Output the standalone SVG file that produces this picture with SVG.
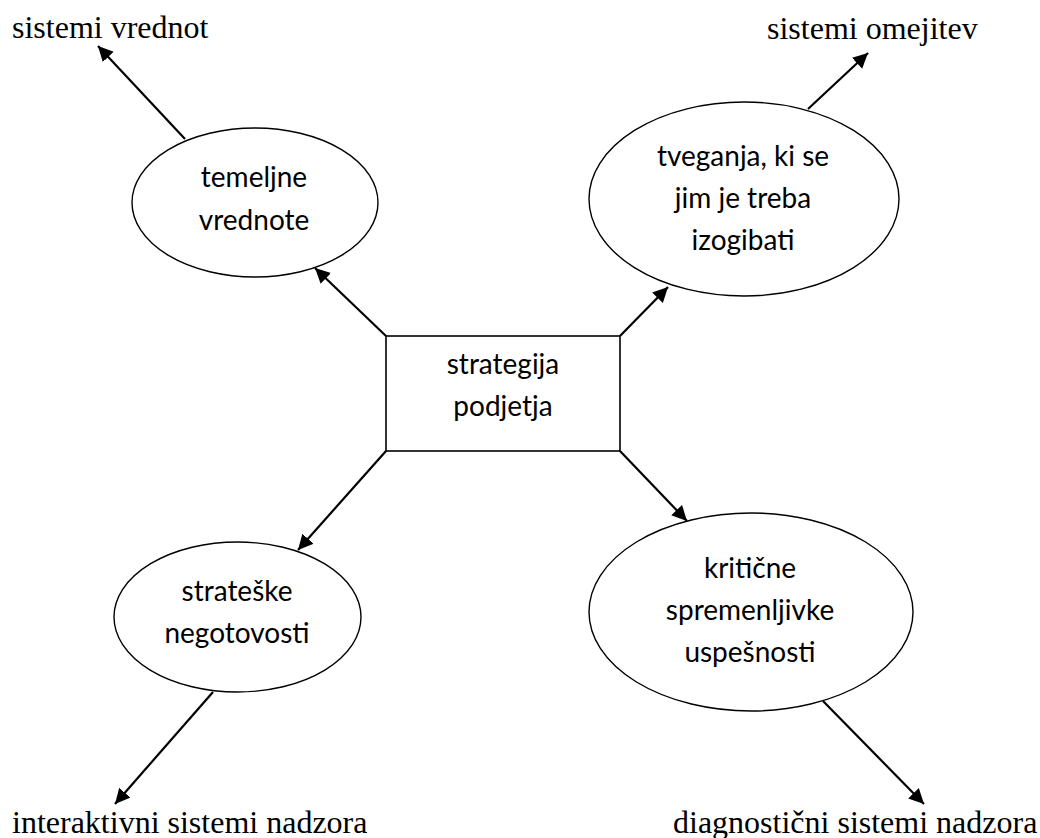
<svg xmlns="http://www.w3.org/2000/svg" width="1040" height="838" viewBox="0 0 1040 838">
<defs>
<style>
.node{fill:#fff;stroke:#000;stroke-width:1.4}
.box{fill:#fff;stroke:#000;stroke-width:1.6}
.lbl{font-family:"Lato","Open Sans","Liberation Sans",sans-serif;font-size:28px;fill:#000;text-anchor:middle}
.out{font-family:"Liberation Serif","Times New Roman",serif;font-size:32px;fill:#000}
.con line{stroke:#000;stroke-width:2.2;marker-end:url(#ah)}
</style>
<marker id="ah" markerUnits="userSpaceOnUse" markerWidth="16" markerHeight="16" refX="15" refY="7.5" orient="auto">
<path d="M0,0 L15,7.5 L0,15 z" fill="#000"/>
</marker>
</defs>
<rect width="1040" height="838" fill="#fff"/>
<g id="connectors" class="con">
<line x1="386" y1="336" x2="315" y2="268"/>
<line x1="185" y1="139" x2="98" y2="46"/>
<line x1="620" y1="336" x2="668" y2="287"/>
<line x1="808" y1="109" x2="868" y2="53"/>
<line x1="386" y1="451" x2="298" y2="550"/>
<line x1="213" y1="692" x2="115" y2="804"/>
<line x1="620" y1="451" x2="687" y2="521"/>
<line x1="823" y1="701" x2="924" y2="804"/>
</g>
<g id="strategija">
<rect class="box" x="386" y="336" width="234" height="115"/>
<text class="lbl" x="503" y="374">strategija</text>
<text class="lbl" x="503" y="416">podjetja</text>
</g>
<g id="temeljne">
<ellipse class="node" cx="255" cy="202.5" rx="123" ry="74.5"/>
<text class="lbl" x="254" y="187">temeljne</text>
<text class="lbl" x="254" y="230">vrednote</text>
</g>
<g id="tveganja">
<ellipse class="node" cx="744" cy="199" rx="155" ry="97"/>
<text class="lbl" x="743" y="166">tveganja, ki se</text>
<text class="lbl" x="743" y="208">jim je treba</text>
<text class="lbl" x="743" y="250">izogibati</text>
</g>
<g id="strateske">
<ellipse class="node" cx="237.5" cy="617" rx="123.5" ry="75"/>
<text class="lbl" x="237" y="601">strateške</text>
<text class="lbl" x="237" y="643">negotovosti</text>
</g>
<g id="kriticne">
<ellipse class="node" cx="751" cy="612" rx="162" ry="99"/>
<text class="lbl" x="750" y="578">kritične</text>
<text class="lbl" x="750" y="620">spremenljivke</text>
<text class="lbl" x="750" y="662">uspešnosti</text>
</g>
<g id="sistemi-vrednot"><text class="out" x="12" y="38">sistemi vrednot</text></g>
<g id="sistemi-omejitev"><text class="out" x="767" y="39">sistemi omejitev</text></g>
<g id="interaktivni"><text class="out" x="12" y="833">interaktivni sistemi nadzora</text></g>
<g id="diagnosticni"><text class="out" x="673" y="833">diagnostični sistemi nadzora</text></g>
</svg>
